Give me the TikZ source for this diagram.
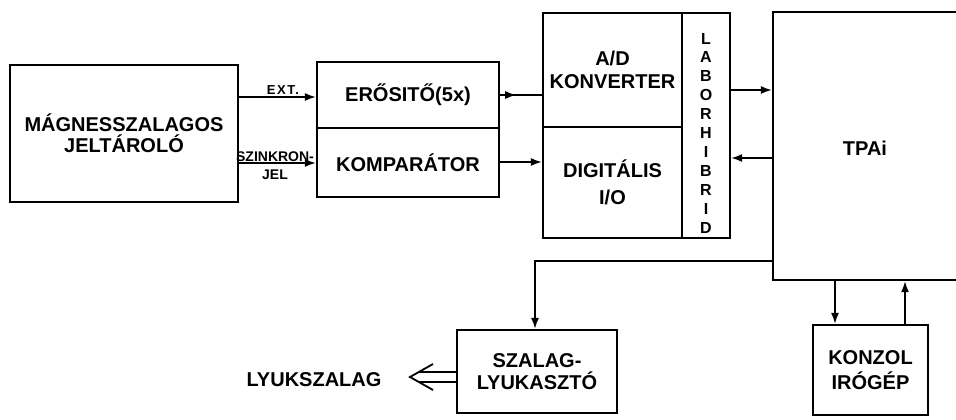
\documentclass[tikz,border=0pt]{standalone}
\usepackage{fontspec}
\setmainfont{Liberation Sans}
\usetikzlibrary{arrows.meta,calc}
\begin{document}
\begin{tikzpicture}[x=1pt,y=-1pt,
  box/.style={draw,line width=2.4pt,rectangle,inner sep=0pt,align=center,
    font=\bfseries\fontsize{20}{22}\selectfont},
  txt/.style={inner sep=0pt,align=center,font=\bfseries\fontsize{20}{22}\selectfont},
  small/.style={inner sep=0pt,align=center,font=\bfseries\fontsize{13}{14}\selectfont},
  conn/.style={line width=1.5pt,-{Latex[length=11pt,width=8pt]}},
  plain/.style={line width=1.5pt}]
\clip (0,0) rectangle (956,420);
\fill[white] (0,0) rectangle (956,420);

% blocks
\node[box,minimum width=228pt,minimum height=137pt,font=\bfseries\fontsize{20}{21}\selectfont] (mag) at (124,133.5) {MÁGNESSZALAGOS\\JELTÁROLÓ};
\node[box,minimum width=182pt,minimum height=66pt] (eros) at (408,95) {ERŐSITŐ(5x)};
\node[box,minimum width=182pt,minimum height=69pt] (komp) at (408,162.5) {KOMPARÁTOR};
\node[box,minimum width=139pt,minimum height=114pt,font=\bfseries\fontsize{20}{23}\selectfont] (ad) at (612.5,70) {A/D\\KONVERTER};
\node[box,minimum width=139pt,minimum height=111pt,font=\bfseries\fontsize{20}{27}\selectfont] (dig) at (612.5,182.5) {DIGITÁLIS\\I/O};
\node[box,minimum width=48pt,minimum height=225pt] (labor) at (706,125.5) {};
\node[txt,font=\bfseries\fontsize{16}{18.9}\selectfont] (laborT) at (706,133) {L\\A\\B\\O\\R\\H\\I\\B\\R\\I\\D};
\node[box,minimum width=202pt,minimum height=268pt] (tpai) at (874,146) {};
\node[txt] (tpaiT) at (865,148) {TPAi};
\node[box,minimum width=160pt,minimum height=83pt] (szalag) at (537,371.5) {SZALAG-\\LYUKASZTÓ};
\node[box,minimum width=115pt,minimum height=90pt,font=\bfseries\fontsize{20}{25}\selectfont] (konzol) at (870.5,370) {KONZOL\\IRÓGÉP};
\node[txt] (lyuk) at (314,380) {LYUKSZALAG};

% labels
\node[small,font=\bfseries\fontsize{13}{14}\selectfont\addfontfeatures{LetterSpace=12}] (extT) at (283,90) {EXT.};
\node[small,font=\bfseries\fontsize{14}{14}\selectfont] (szinT) at (275,157) {SZINKRON-};
\node[small,font=\bfseries\fontsize{14}{14}\selectfont] (jelT) at (275,175) {JEL};

% helper coordinates
\coordinate (yext) at (0,97);
\coordinate (ysync) at (0,163);
\coordinate (ydig) at (0,162);
\coordinate (yup) at (0,90);
\coordinate (ylow) at (0,158);
\coordinate (ytape) at (0,261);
\coordinate (xtape) at (535,0);
\coordinate (xk1) at (835,0);
\coordinate (xk2) at (905,0);
\coordinate (tip) at (410,377);

% connectors
\draw[conn] (mag.east |- yext) -- (eros.west |- yext);
\draw[conn] (mag.east |- ysync) -- (komp.west |- ysync);
\draw[plain] (eros.east) -- (ad.west |- eros.east);
\draw[conn] (eros.east) -- ++(16,0);
\draw[conn] (komp.east |- ydig) -- (dig.west |- ydig);
\draw[conn] (labor.east |- yup) -- (tpai.west |- yup);
\draw[conn] (tpai.west |- ylow) -- (labor.east |- ylow);
\draw[conn] (tpai.west |- ytape) -| (szalag.north -| xtape);
\draw[conn] (tpai.south -| xk1) -- (konzol.north -| xk1);
\draw[conn] (konzol.north -| xk2) -- (tpai.south -| xk2);

% hollow output arrow
\draw[line width=1.8pt] ($(tip)+(23,-13)$) -- (tip) -- ($(tip)+(23,13)$);
\draw[line width=1.8pt] (szalag.west |- 0,372) -- ($(tip)+(8.8,-5)$);
\draw[line width=1.8pt] (szalag.west |- 0,382) -- ($(tip)+(8.8,5)$);
\end{tikzpicture}
\end{document}
